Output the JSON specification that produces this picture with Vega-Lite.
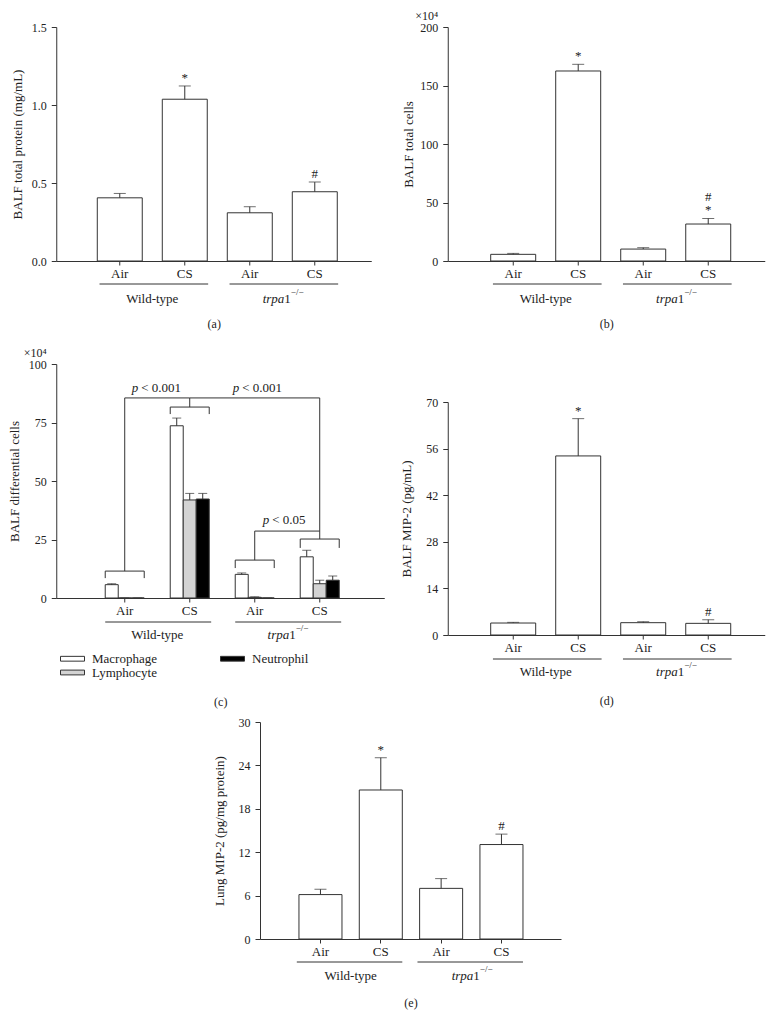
{
"$schema": "https://vega.github.io/schema/vega-lite/v6.json",
"padding": {"left": 8, "top": 9, "right": 5, "bottom": 5},
"background": "white",
"config": {
  "font": "Liberation Serif",
  "view": {"stroke": null},
  "axis": {"domainColor": "#333", "tickColor": "#333", "labelColor": "#222", "titleColor": "#222", "labelFont": "Liberation Serif", "titleFont": "Liberation Serif", "labelFontSize": 12, "titleFontSize": 13, "titleFontWeight": "normal", "grid": false, "tickSize": 5, "labelPadding": 5},
  "axisX": {"labelFontSize": 13, "tickSize": 4, "labelPadding": 2, "labelAngle": 0, "titleFontSize": 12},
  "text": {"font": "Liberation Serif", "fontSize": 13, "color": "#222"},
  "legend": {"labelFont": "Liberation Serif"}
},
"datasets": {
  "pa": [
    {"cond": "WT Air", "mean": 0.405, "upper": 0.433, "sig": "", "sig2": ""},
    {"cond": "WT CS", "mean": 1.037, "upper": 1.122, "sig": "*", "sig2": ""},
    {"cond": "KO Air", "mean": 0.309, "upper": 0.348, "sig": "", "sig2": ""},
    {"cond": "KO CS", "mean": 0.444, "upper": 0.506, "sig": "#", "sig2": ""}
  ],
  "pb": [
    {"cond": "WT Air", "mean": 5.7, "upper": 6.5, "sig": "", "sig2": ""},
    {"cond": "WT CS", "mean": 162.4, "upper": 168.1, "sig": "*", "sig2": ""},
    {"cond": "KO Air", "mean": 10.2, "upper": 11.4, "sig": "", "sig2": ""},
    {"cond": "KO CS", "mean": 31.6, "upper": 36.4, "sig": "*", "sig2": "#"}
  ],
  "pd": [
    {"cond": "WT Air", "mean": 3.6, "upper": 3.8, "sig": "", "sig2": ""},
    {"cond": "WT CS", "mean": 53.8, "upper": 65.0, "sig": "*", "sig2": ""},
    {"cond": "KO Air", "mean": 3.7, "upper": 4.0, "sig": "", "sig2": ""},
    {"cond": "KO CS", "mean": 3.5, "upper": 4.6, "sig": "#", "sig2": ""}
  ],
  "pe": [
    {"cond": "WT Air", "mean": 6.14, "upper": 6.88, "sig": "", "sig2": ""},
    {"cond": "WT CS", "mean": 20.6, "upper": 25.06, "sig": "*", "sig2": ""},
    {"cond": "KO Air", "mean": 7.0, "upper": 8.35, "sig": "", "sig2": ""},
    {"cond": "KO CS", "mean": 13.06, "upper": 14.5, "sig": "#", "sig2": ""}
  ],
  "pc": [
    {"cond": "WT Air", "type": "Macrophage", "mean": 5.7, "upper": 6.1},
    {"cond": "WT Air", "type": "Lymphocyte", "mean": 0, "upper": 0},
    {"cond": "WT Air", "type": "Neutrophil", "mean": 0, "upper": 0},
    {"cond": "WT CS", "type": "Macrophage", "mean": 73.6, "upper": 76.9},
    {"cond": "WT CS", "type": "Lymphocyte", "mean": 41.9, "upper": 44.7},
    {"cond": "WT CS", "type": "Neutrophil", "mean": 42.3, "upper": 44.7},
    {"cond": "KO Air", "type": "Macrophage", "mean": 10.1, "upper": 10.7},
    {"cond": "KO Air", "type": "Lymphocyte", "mean": 0.3, "upper": 0.5},
    {"cond": "KO Air", "type": "Neutrophil", "mean": 0, "upper": 0},
    {"cond": "KO CS", "type": "Macrophage", "mean": 17.6, "upper": 20.4},
    {"cond": "KO CS", "type": "Lymphocyte", "mean": 6.1, "upper": 7.6},
    {"cond": "KO CS", "type": "Neutrophil", "mean": 7.6, "upper": 9.4}
  ],
  "groups": [
    {"first": "WT Air", "last": "WT CS"},
    {"first": "KO Air", "last": "KO CS"}
  ],
  "brk": [
    {"cond": "WT Air", "top": 11.5, "bot": 8.5},
    {"cond": "WT CS", "top": 81.6, "bot": 78.6},
    {"cond": "KO Air", "top": 16.2, "bot": 12.8},
    {"cond": "KO CS", "top": 25.2, "bot": 21.4}
  ],
  "connv": [
    {"cond": "WT Air", "lo": 11.5, "hi": 85.5},
    {"cond": "WT CS", "lo": 81.6, "hi": 85.5},
    {"cond": "KO CS", "lo": 25.2, "hi": 85.5},
    {"cond": "KO Air", "lo": 16.2, "hi": 28.6}
  ],
  "connh": [
    {"from": "WT Air", "to": "WT CS", "at": 85.5},
    {"from": "WT CS", "to": "KO CS", "at": 85.5},
    {"from": "KO Air", "to": "KO CS", "at": 28.6}
  ],
  "one": [{}]
},
"vconcat": [
  {"hconcat": [
    {"vconcat": [
      {
        "width": 315, "height": 234,
        "data": {"name": "pa"},
        "layer": [
          {"mark": {"type": "bar", "fill": "white", "stroke": "#333", "strokeWidth": 1},
           "encoding": {
             "x": {"field": "cond", "type": "nominal", "sort": null, "scale": {"domain": ["WT Air", "WT CS", "KO Air", "KO CS"], "paddingInner": 0.308, "paddingOuter": 0.577, "align": 0.547}, "axis": {"title": "(a)", "titlePadding": 38, "labelExpr": "split(datum.value, ' ')[1]"}},
             "y": {"field": "mean", "type": "quantitative", "scale": {"domain": [0, 1.5], "nice": false}, "axis": {"title": "BALF total protein (mg/mL)", "values": [0, 0.5, 1, 1.5], "format": ".1f", "titlePadding": 6.5, "labelExpr": "datum.value == 1.5 ? ['', datum.label] : datum.label", "labelLineHeight": 12, "labelOffset": {"condition": {"test": "datum.value == 1.5", "value": -12}, "value": 0}}}
           }},
          {"mark": {"type": "rule", "color": "#333"},
           "encoding": {"x": {"field": "cond", "type": "nominal"}, "y": {"field": "mean", "type": "quantitative"}, "y2": {"field": "upper"}}},
          {"mark": {"type": "tick", "color": "#333", "size": 12, "thickness": 1},
           "encoding": {"x": {"field": "cond", "type": "nominal"}, "y": {"field": "upper", "type": "quantitative"}}},
          {"mark": {"type": "text", "baseline": "bottom", "dy": -1},
           "encoding": {"x": {"field": "cond", "type": "nominal"}, "y": {"field": "upper", "type": "quantitative"}, "text": {"field": "sig"}}},
          {"data": {"name": "groups"}, "mark": {"type": "rule", "color": "#333", "yOffset": 23},
           "encoding": {"x": {"field": "first", "type": "nominal", "bandPosition": 0.05}, "x2": {"field": "last", "bandPosition": 1.02}, "y": {"datum": 0, "type": "quantitative"}}},
          {"data": {"name": "one"}, "mark": {"type": "text", "dy": 38, "baseline": "middle", "align": "center"},
           "encoding": {"x": {"datum": "WT CS", "type": "nominal", "bandPosition": -0.222}, "y": {"datum": 0, "type": "quantitative"}, "text": {"value": "Wild-type"}}},
          {"data": {"name": "one"}, "mark": {"type": "text", "dy": 38, "dx": 2, "baseline": "middle", "align": "right", "fontStyle": "italic"},
           "encoding": {"x": {"datum": "KO CS", "type": "nominal", "bandPosition": -0.222}, "y": {"datum": 0, "type": "quantitative"}, "text": {"value": "trpa"}}},
          {"data": {"name": "one"}, "mark": {"type": "text", "dy": 38, "dx": 2, "baseline": "middle", "align": "left"},
           "encoding": {"x": {"datum": "KO CS", "type": "nominal", "bandPosition": -0.222}, "y": {"datum": 0, "type": "quantitative"}, "text": {"value": "1"}}},
          {"data": {"name": "one"}, "mark": {"type": "text", "dy": 31, "dx": 8.5, "baseline": "middle", "align": "left", "fontSize": 9},
           "encoding": {"x": {"datum": "KO CS", "type": "nominal", "bandPosition": -0.222}, "y": {"datum": 0, "type": "quantitative"}, "text": {"value": "−/−"}}}
        ]
      },
      {
        "width": 328, "height": 234,
        "layer": [
          {"data": {"name": "pc"}, "mark": {"type": "bar", "stroke": "#333", "strokeWidth": 1},
           "encoding": {
             "x": {"field": "cond", "type": "nominal", "sort": null, "scale": {"domain": ["WT Air", "WT CS", "KO Air", "KO CS"], "paddingInner": 0.4, "paddingOuter": 0.723, "align": 0.521}, "axis": {"title": "(c)", "titlePadding": 79, "labelExpr": "split(datum.value, ' ')[1]"}},
             "xOffset": {"field": "type", "type": "nominal", "scale": {"domain": ["Macrophage", "Lymphocyte", "Neutrophil"], "paddingInner": 0, "paddingOuter": 0}},
             "y": {"field": "mean", "type": "quantitative", "scale": {"domain": [0, 100], "nice": false}, "axis": {"title": "BALF differential cells", "values": [0, 25, 50, 75, 100], "titlePadding": 2, "labelExpr": "datum.value == 100 ? ['×10⁴', datum.label] : datum.label", "labelLineHeight": 12, "labelOffset": {"condition": {"test": "datum.value == 100", "value": -12}, "value": 0}}},
             "fill": {"field": "type", "type": "nominal", "scale": {"domain": ["Macrophage", "Lymphocyte", "Neutrophil"], "range": ["white", "#d3d3d3", "black"]},
                      "legend": {"title": null, "orient": "none", "legendX": 10, "legendY": 625, "columns": 2, "symbolType": "M-2,-0.4H2V0.4H-2Z", "symbolSize": 144, "symbolStrokeColor": "#333", "symbolStrokeWidth": 1, "labelFontSize": 13, "labelOffset": 13, "columnPadding": 61, "rowPadding": 0, "labelColor": "#222"}}
           }},
          {"data": {"name": "pc"}, "mark": {"type": "rule", "color": "#333"},
           "encoding": {"x": {"field": "cond", "type": "nominal"}, "xOffset": {"field": "type", "type": "nominal"}, "y": {"field": "mean", "type": "quantitative"}, "y2": {"field": "upper"}}},
          {"data": {"name": "pc"}, "mark": {"type": "tick", "color": "#333", "size": 9, "thickness": 1},
           "encoding": {"x": {"field": "cond", "type": "nominal"}, "xOffset": {"field": "type", "type": "nominal"}, "y": {"field": "upper", "type": "quantitative"}}},
          {"data": {"name": "brk"}, "mark": {"type": "rule", "color": "#333"},
           "encoding": {"x": {"field": "cond", "type": "nominal", "bandPosition": 0}, "x2": {"field": "cond", "bandPosition": 1}, "y": {"field": "top", "type": "quantitative"}}},
          {"data": {"name": "brk"}, "mark": {"type": "rule", "color": "#333"},
           "encoding": {"x": {"field": "cond", "type": "nominal", "bandPosition": 0}, "y": {"field": "top", "type": "quantitative"}, "y2": {"field": "bot"}}},
          {"data": {"name": "brk"}, "mark": {"type": "rule", "color": "#333"},
           "encoding": {"x": {"field": "cond", "type": "nominal", "bandPosition": 1}, "y": {"field": "top", "type": "quantitative"}, "y2": {"field": "bot"}}},
          {"data": {"name": "connv"}, "mark": {"type": "rule", "color": "#333"},
           "encoding": {"x": {"field": "cond", "type": "nominal", "bandPosition": 0.5}, "y": {"field": "lo", "type": "quantitative"}, "y2": {"field": "hi"}}},
          {"data": {"name": "connh"}, "mark": {"type": "rule", "color": "#333"},
           "encoding": {"x": {"field": "from", "type": "nominal", "bandPosition": 0.5}, "x2": {"field": "to", "bandPosition": 0.5}, "y": {"field": "at", "type": "quantitative"}}},
          {"data": {"name": "one"}, "mark": {"type": "text", "fontStyle": "italic", "align": "left", "dx": -25.5, "baseline": "middle"},
           "encoding": {"x": {"datum": "WT CS", "type": "nominal", "bandPosition": -0.333}, "y": {"datum": 89.7, "type": "quantitative"}, "text": {"value": "p"}}},
          {"data": {"name": "one"}, "mark": {"type": "text", "align": "left", "dx": -16, "baseline": "middle"},
           "encoding": {"x": {"datum": "WT CS", "type": "nominal", "bandPosition": -0.333}, "y": {"datum": 89.7, "type": "quantitative"}, "text": {"value": "< 0.001"}}},
          {"data": {"name": "one"}, "mark": {"type": "text", "fontStyle": "italic", "align": "left", "dx": -25.5, "baseline": "middle"},
           "encoding": {"x": {"datum": "KO Air", "type": "nominal", "bandPosition": 0.59}, "y": {"datum": 89.7, "type": "quantitative"}, "text": {"value": "p"}}},
          {"data": {"name": "one"}, "mark": {"type": "text", "align": "left", "dx": -16, "baseline": "middle"},
           "encoding": {"x": {"datum": "KO Air", "type": "nominal", "bandPosition": 0.59}, "y": {"datum": 89.7, "type": "quantitative"}, "text": {"value": "< 0.001"}}},
          {"data": {"name": "one"}, "mark": {"type": "text", "fontStyle": "italic", "align": "left", "dx": -21.5, "baseline": "middle"},
           "encoding": {"x": {"datum": "KO CS", "type": "nominal", "bandPosition": -0.41}, "y": {"datum": 33.3, "type": "quantitative"}, "text": {"value": "p"}}},
          {"data": {"name": "one"}, "mark": {"type": "text", "align": "left", "dx": -12, "baseline": "middle"},
           "encoding": {"x": {"datum": "KO CS", "type": "nominal", "bandPosition": -0.41}, "y": {"datum": 33.3, "type": "quantitative"}, "text": {"value": "< 0.05"}}},
          {"data": {"name": "groups"}, "mark": {"type": "rule", "color": "#333", "yOffset": 24},
           "encoding": {"x": {"field": "first", "type": "nominal", "bandPosition": 0}, "x2": {"field": "last", "bandPosition": 1.05}, "y": {"datum": 0, "type": "quantitative"}}},
          {"data": {"name": "one"}, "mark": {"type": "text", "dy": 37, "baseline": "middle", "align": "center"},
           "encoding": {"x": {"datum": "WT CS", "type": "nominal", "bandPosition": -0.333}, "y": {"datum": 0, "type": "quantitative"}, "text": {"value": "Wild-type"}}},
          {"data": {"name": "one"}, "mark": {"type": "text", "dy": 37, "dx": 2, "baseline": "middle", "align": "right", "fontStyle": "italic"},
           "encoding": {"x": {"datum": "KO CS", "type": "nominal", "bandPosition": -0.333}, "y": {"datum": 0, "type": "quantitative"}, "text": {"value": "trpa"}}},
          {"data": {"name": "one"}, "mark": {"type": "text", "dy": 37, "dx": 2, "baseline": "middle", "align": "left"},
           "encoding": {"x": {"datum": "KO CS", "type": "nominal", "bandPosition": -0.333}, "y": {"datum": 0, "type": "quantitative"}, "text": {"value": "1"}}},
          {"data": {"name": "one"}, "mark": {"type": "text", "dy": 30, "dx": 8.5, "baseline": "middle", "align": "left", "fontSize": 9},
           "encoding": {"x": {"datum": "KO CS", "type": "nominal", "bandPosition": -0.333}, "y": {"datum": 0, "type": "quantitative"}, "text": {"value": "−/−"}}}
        ]
      }
    ], "spacing": 17},
    {"vconcat": [
      {
        "width": 317, "height": 234,
        "data": {"name": "pb"},
        "layer": [
          {"mark": {"type": "bar", "fill": "white", "stroke": "#333", "strokeWidth": 1},
           "encoding": {
             "x": {"field": "cond", "type": "nominal", "sort": null, "scale": {"domain": ["WT Air", "WT CS", "KO Air", "KO CS"], "paddingInner": 0.308, "paddingOuter": 0.592, "align": 0.558}, "axis": {"title": "(b)", "titlePadding": 38, "labelExpr": "split(datum.value, ' ')[1]"}},
             "y": {"field": "mean", "type": "quantitative", "scale": {"domain": [0, 200], "nice": false}, "axis": {"title": "BALF total cells", "values": [0, 50, 100, 150, 200], "titlePadding": -1, "labelExpr": "datum.value == 200 ? ['×10⁴', datum.label] : datum.label", "labelLineHeight": 12, "labelOffset": {"condition": {"test": "datum.value == 200", "value": -12}, "value": 0}}}
           }},
          {"mark": {"type": "rule", "color": "#333"},
           "encoding": {"x": {"field": "cond", "type": "nominal"}, "y": {"field": "mean", "type": "quantitative"}, "y2": {"field": "upper"}}},
          {"mark": {"type": "tick", "color": "#333", "size": 12, "thickness": 1},
           "encoding": {"x": {"field": "cond", "type": "nominal"}, "y": {"field": "upper", "type": "quantitative"}}},
          {"mark": {"type": "text", "baseline": "bottom", "dy": -1},
           "encoding": {"x": {"field": "cond", "type": "nominal"}, "y": {"field": "upper", "type": "quantitative"}, "text": {"field": "sig"}}},
          {"mark": {"type": "text", "baseline": "bottom", "dy": -14},
           "encoding": {"x": {"field": "cond", "type": "nominal"}, "y": {"field": "upper", "type": "quantitative"}, "text": {"field": "sig2"}}},
          {"data": {"name": "groups"}, "mark": {"type": "rule", "color": "#333", "yOffset": 23},
           "encoding": {"x": {"field": "first", "type": "nominal", "bandPosition": 0.05}, "x2": {"field": "last", "bandPosition": 1.02}, "y": {"datum": 0, "type": "quantitative"}}},
          {"data": {"name": "one"}, "mark": {"type": "text", "dy": 38, "baseline": "middle", "align": "center"},
           "encoding": {"x": {"datum": "WT CS", "type": "nominal", "bandPosition": -0.222}, "y": {"datum": 0, "type": "quantitative"}, "text": {"value": "Wild-type"}}},
          {"data": {"name": "one"}, "mark": {"type": "text", "dy": 38, "dx": 2, "baseline": "middle", "align": "right", "fontStyle": "italic"},
           "encoding": {"x": {"datum": "KO CS", "type": "nominal", "bandPosition": -0.222}, "y": {"datum": 0, "type": "quantitative"}, "text": {"value": "trpa"}}},
          {"data": {"name": "one"}, "mark": {"type": "text", "dy": 38, "dx": 2, "baseline": "middle", "align": "left"},
           "encoding": {"x": {"datum": "KO CS", "type": "nominal", "bandPosition": -0.222}, "y": {"datum": 0, "type": "quantitative"}, "text": {"value": "1"}}},
          {"data": {"name": "one"}, "mark": {"type": "text", "dy": 31, "dx": 8.5, "baseline": "middle", "align": "left", "fontSize": 9},
           "encoding": {"x": {"datum": "KO CS", "type": "nominal", "bandPosition": -0.222}, "y": {"datum": 0, "type": "quantitative"}, "text": {"value": "−/−"}}}
        ]
      },
      {
        "width": 317, "height": 233,
        "data": {"name": "pd"},
        "layer": [
          {"mark": {"type": "bar", "fill": "white", "stroke": "#333", "strokeWidth": 1},
           "encoding": {
             "x": {"field": "cond", "type": "nominal", "sort": null, "scale": {"domain": ["WT Air", "WT CS", "KO Air", "KO CS"], "paddingInner": 0.308, "paddingOuter": 0.592, "align": 0.558}, "axis": {"title": "(d)", "titlePadding": 41, "labelExpr": "split(datum.value, ' ')[1]"}},
             "y": {"field": "mean", "type": "quantitative", "scale": {"domain": [0, 70], "nice": false}, "axis": {"title": "BALF MIP-2 (pg/mL)", "values": [0, 14, 28, 42, 56, 70], "titlePadding": 12.5}}
           }},
          {"mark": {"type": "rule", "color": "#333"},
           "encoding": {"x": {"field": "cond", "type": "nominal"}, "y": {"field": "mean", "type": "quantitative"}, "y2": {"field": "upper"}}},
          {"mark": {"type": "tick", "color": "#333", "size": 12, "thickness": 1},
           "encoding": {"x": {"field": "cond", "type": "nominal"}, "y": {"field": "upper", "type": "quantitative"}}},
          {"mark": {"type": "text", "baseline": "bottom", "dy": -1},
           "encoding": {"x": {"field": "cond", "type": "nominal"}, "y": {"field": "upper", "type": "quantitative"}, "text": {"field": "sig"}}},
          {"data": {"name": "groups"}, "mark": {"type": "rule", "color": "#333", "yOffset": 24},
           "encoding": {"x": {"field": "first", "type": "nominal", "bandPosition": 0.05}, "x2": {"field": "last", "bandPosition": 1.02}, "y": {"datum": 0, "type": "quantitative"}}},
          {"data": {"name": "one"}, "mark": {"type": "text", "dy": 37, "baseline": "middle", "align": "center"},
           "encoding": {"x": {"datum": "WT CS", "type": "nominal", "bandPosition": -0.222}, "y": {"datum": 0, "type": "quantitative"}, "text": {"value": "Wild-type"}}},
          {"data": {"name": "one"}, "mark": {"type": "text", "dy": 37, "dx": 2, "baseline": "middle", "align": "right", "fontStyle": "italic"},
           "encoding": {"x": {"datum": "KO CS", "type": "nominal", "bandPosition": -0.222}, "y": {"datum": 0, "type": "quantitative"}, "text": {"value": "trpa"}}},
          {"data": {"name": "one"}, "mark": {"type": "text", "dy": 37, "dx": 2, "baseline": "middle", "align": "left"},
           "encoding": {"x": {"datum": "KO CS", "type": "nominal", "bandPosition": -0.222}, "y": {"datum": 0, "type": "quantitative"}, "text": {"value": "1"}}},
          {"data": {"name": "one"}, "mark": {"type": "text", "dy": 30, "dx": 8.5, "baseline": "middle", "align": "left", "fontSize": 9},
           "encoding": {"x": {"datum": "KO CS", "type": "nominal", "bandPosition": -0.222}, "y": {"datum": 0, "type": "quantitative"}, "text": {"value": "−/−"}}}
        ]
      }
    ], "spacing": 67}
  ], "spacing": 15.5},
  {
    "width": 301, "height": 217,
    "data": {"name": "pe"},
    "layer": [
      {"mark": {"type": "bar", "fill": "white", "stroke": "#333", "strokeWidth": 1},
       "encoding": {
         "x": {"field": "cond", "type": "nominal", "sort": null, "scale": {"domain": ["WT Air", "WT CS", "KO Air", "KO CS"], "paddingInner": 0.287, "paddingOuter": 0.638, "align": 0.506}, "axis": {"title": "(e)", "titlePadding": 39, "labelExpr": "split(datum.value, ' ')[1]"}},
         "y": {"field": "mean", "type": "quantitative", "scale": {"domain": [0, 30], "nice": false}, "axis": {"title": "Lung MIP-2 (pg/mg protein)", "values": [0, 6, 12, 18, 24, 30], "titlePadding": 12}}
       }},
      {"mark": {"type": "rule", "color": "#333"},
       "encoding": {"x": {"field": "cond", "type": "nominal"}, "y": {"field": "mean", "type": "quantitative"}, "y2": {"field": "upper"}}},
      {"mark": {"type": "tick", "color": "#333", "size": 12, "thickness": 1},
       "encoding": {"x": {"field": "cond", "type": "nominal"}, "y": {"field": "upper", "type": "quantitative"}}},
      {"mark": {"type": "text", "baseline": "bottom", "dy": -1},
       "encoding": {"x": {"field": "cond", "type": "nominal"}, "y": {"field": "upper", "type": "quantitative"}, "text": {"field": "sig"}}},
      {"data": {"name": "groups"}, "mark": {"type": "rule", "color": "#333", "yOffset": 23},
       "encoding": {"x": {"field": "first", "type": "nominal", "bandPosition": -0.05}, "x2": {"field": "last", "bandPosition": 1.0}, "y": {"datum": 0, "type": "quantitative"}}},
      {"data": {"name": "one"}, "mark": {"type": "text", "dy": 37, "baseline": "middle", "align": "center"},
       "encoding": {"x": {"datum": "WT CS", "type": "nominal", "bandPosition": -0.2}, "y": {"datum": 0, "type": "quantitative"}, "text": {"value": "Wild-type"}}},
      {"data": {"name": "one"}, "mark": {"type": "text", "dy": 37, "dx": 2, "baseline": "middle", "align": "right", "fontStyle": "italic"},
       "encoding": {"x": {"datum": "KO CS", "type": "nominal", "bandPosition": -0.2}, "y": {"datum": 0, "type": "quantitative"}, "text": {"value": "trpa"}}},
      {"data": {"name": "one"}, "mark": {"type": "text", "dy": 37, "dx": 2, "baseline": "middle", "align": "left"},
       "encoding": {"x": {"datum": "KO CS", "type": "nominal", "bandPosition": -0.2}, "y": {"datum": 0, "type": "quantitative"}, "text": {"value": "1"}}},
      {"data": {"name": "one"}, "mark": {"type": "text", "dy": 30, "dx": 8.5, "baseline": "middle", "align": "left", "fontSize": 9},
       "encoding": {"x": {"datum": "KO CS", "type": "nominal", "bandPosition": -0.2}, "y": {"datum": 0, "type": "quantitative"}, "text": {"value": "−/−"}}}
    ]
  }
],
"spacing": 9,
"center": true
}
